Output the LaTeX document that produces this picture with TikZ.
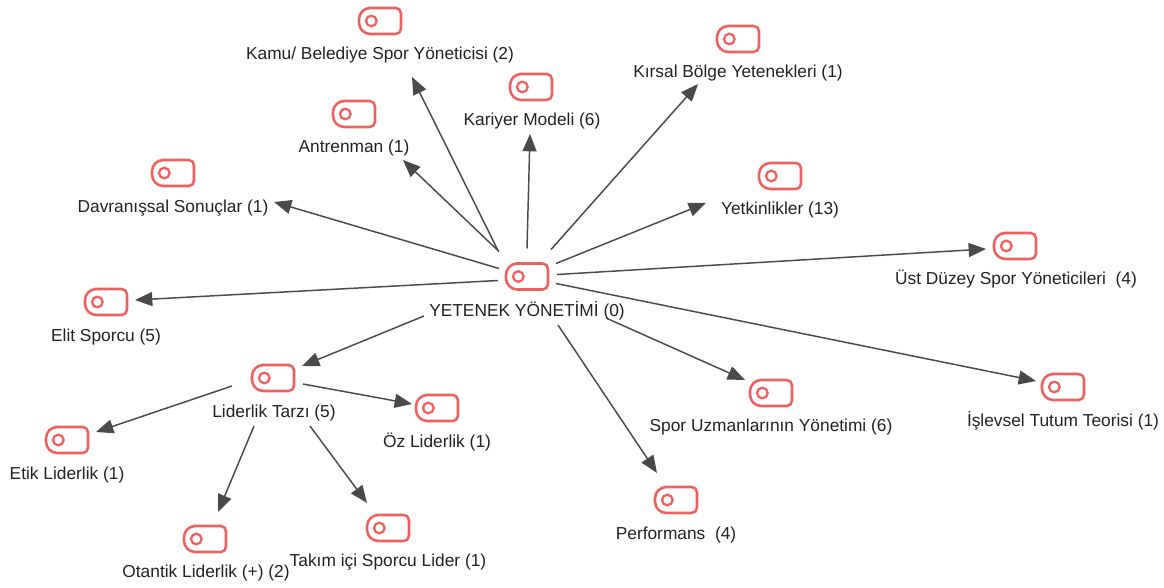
\documentclass[tikz,border=0pt]{standalone}
\usepackage{fontspec}
\setmainfont{Liberation Sans}
\usetikzlibrary{arrows.meta}
\definecolor{iconred}{HTML}{F0605F}
\definecolor{linkgrey}{HTML}{4A4A4A}
\definecolor{labelink}{HTML}{222222}

\begin{document}
\begin{tikzpicture}[x=0.75pt,y=-0.75pt]
    \tikzstyle{code}=[minimum width=35pt,minimum height=24pt,inner sep=0pt,
        path picture={
            \draw[iconred,line width=1.9pt] ([yshift=9.75pt]path picture bounding box.center)
                [rounded corners=4pt] -- ++(15.75pt,0pt) -- ++(0pt,-19.5pt) -- ++(-15.75pt,0pt)
                [rounded corners=8.5pt] -- ++(-15.75pt,0pt) -- ++(0pt,19.5pt) -- cycle;
            \draw[iconred,line width=1.7pt] ([xshift=-6.5pt]path picture bounding box.center) circle (5.3);}]
    \tikzstyle{tag}=[text=labelink,font=\fontsize{13pt}{15pt}\selectfont,inner sep=0pt]
    \tikzstyle{link}=[draw=linkgrey,line width=1.1pt,-{Triangle[length=13pt,width=10.5pt]}]
    \useasboundingbox (0,0) rectangle (1164,588);
    % center
    \node[code] (hub) at (527,276.5) {};
    \node[tag] (hubtag) at (527,311) {YETENEK YÖNETİMİ (0)};
    % upper half
    \node[code] (kamu) at (380,21) {};
    \node[tag] (kamutag) at (380,55) {Kamu/ Belediye Spor Yöneticisi (2)};
    \node[code] (antrenman) at (354,114) {};
    \node[tag] (antrenmantag) at (354,148) {Antrenman (1)};
    \node[code] (kariyer) at (531,87) {};
    \node[tag] (kariyertag) at (532,121) {Kariyer Modeli (6)};
    \node[code] (kirsal) at (738,39) {};
    \node[tag] (kirsaltag) at (738,73) {Kırsal Bölge Yetenekleri (1)};
    \node[code] (yetkinlik) at (780,176) {};
    \node[tag] (yetkinliktag) at (780,210) {Yetkinlikler (13)};
    \node[code] (davranis) at (173,173) {};
    \node[tag] (davranistag) at (173,208) {Davranışsal Sonuçlar (1)};
    % right side
    \node[code] (ust) at (1015,246) {};
    \node[tag] (usttag) at (1016,279) {Üst Düzey Spor Yöneticileri~~(4)};
    \node[code] (islevsel) at (1063,387) {};
    \node[tag] (islevseltag) at (1063,421) {İşlevsel Tutum Teorisi (1)};
    \node[code] (uzman) at (771,393) {};
    \node[tag] (uzmantag) at (771,427) {Spor Uzmanlarının Yönetimi (6)};
    \node[code] (performans) at (676,500) {};
    \node[tag] (performanstag) at (676,535) {Performans~~(4)};
    % left side
    \node[code] (elit) at (106,302) {};
    \node[tag] (elittag) at (106,337) {Elit Sporcu (5)};
    \node[code] (liderlik) at (273,378) {};
    \node[tag] (liderliktag) at (274,413) {Liderlik Tarzı (5)};
    \node[code] (oz) at (437,408) {};
    \node[tag] (oztag) at (437,442) {Öz Liderlik (1)};
    \node[code] (etik) at (67,440) {};
    \node[tag] (etiktag) at (67,475) {Etik Liderlik (1)};
    \node[code] (otantik) at (205,539) {};
    \node[tag] (otantiktag) at (206,573) {Otantik Liderlik (+) (2)};
    \node[code] (takim) at (388,528) {};
    \node[tag] (takimtag) at (388,562) {Takım içi Sporcu Lider (1)};
    % links from the center
    \draw[link] ([shift={(-29,-26)}]hub.center) -- ([shift={(32,22)}]kamutag.center);
    \draw[link] ([shift={(-28,-25)}]hub.center) -- ([shift={(49,12)}]antrenmantag.center);
    \draw[link] ([shift={(0,-28)}]hub.center) -- ([shift={(-2,13)}]kariyertag.center);
    \draw[link] ([shift={(24,-27)}]hub.center) -- ([shift={(-40,11)}]kirsaltag.center);
    \draw[link] ([shift={(29,-13)}]hub.center) -- ([shift={(-74,-7)}]yetkinliktag.center);
    \draw[link] ([shift={(30,-2)}]hub.center) -- ([shift={(-29,3)}]ust.center);
    \draw[link] ([shift={(29,7)}]hub.center) -- ([shift={(-27,-6)}]islevsel.center);
    \draw[link] ([shift={(79,7)}]hubtag.center) -- ([shift={(-26,-13)}]uzman.center);
    \draw[link] ([shift={(31,14)}]hubtag.center) -- ([shift={(-19,-27)}]performans.center);
    \draw[link] ([shift={(-28,-8)}]hub.center) -- ([shift={(101,-6)}]davranistag.center);
    \draw[link] ([shift={(-29,4)}]hub.center) -- ([shift={(29,-2)}]elit.center);
    \draw[link] ([shift={(-103,5)}]hubtag.center) -- ([shift={(29,-12)}]liderlik.center);
    % links from liderlik
    \draw[link] ([shift={(30,6)}]liderlik.center) -- ([shift={(-25,-4)}]oz.center);
    \draw[link] ([shift={(-41,8)}]liderlik.center) -- ([shift={(29,-8)}]etik.center);
    \draw[link] ([shift={(-20,13)}]liderliktag.center) -- ([shift={(13,-27)}]otantik.center);
    \draw[link] ([shift={(36,13)}]liderliktag.center) -- ([shift={(-21,-25)}]takim.center);
\end{tikzpicture}
\end{document}
